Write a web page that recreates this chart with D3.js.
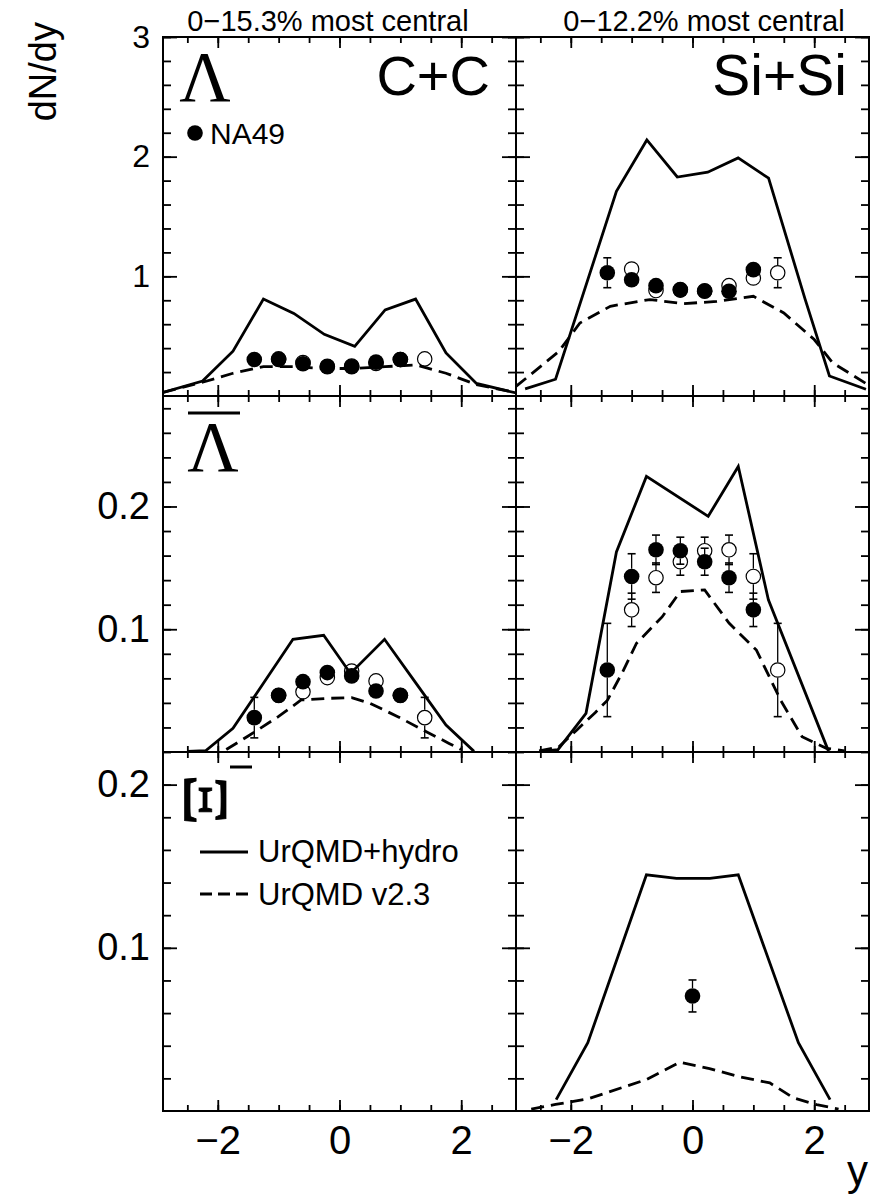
<!DOCTYPE html>
<html><head><meta charset="utf-8">
<script src="https://cdn.jsdelivr.net/npm/d3@7"></script>
<style>body{margin:0;background:#fff}svg{display:block}</style>
</head><body><svg id="c" width="879" height="1197"></svg>
<script>
// ---------------- DATA ----------------
const centralityLabels = ["0\u221215.3% most central", "0\u221212.2% most central"];
const systemLabels = ["C+C", "Si+Si"];
const xTickValues = [-2, 0, 2];
const yTickValuesLambda = [1, 2, 3];
const yTickValuesLambdaBar = [0.1, 0.2];
const yTickValuesXi = [0.1, 0.2];
const legendLabels = ["NA49", "UrQMD+hydro", "UrQMD v2.3"];

// Lambda, C+C
const hydroLambdaCC = [[-2.9,0.03],[-2.25,0.125],[-1.75,0.375],[-1.25,0.81],[-0.75,0.69],[-0.25,0.515],[0.25,0.415],[0.75,0.72],[1.25,0.81],[1.75,0.36],[2.25,0.105],[2.9,0.025]];
const urqmdLambdaCC = [[-2.9,0.03],[-2.25,0.115],[-1.75,0.19],[-1.25,0.245],[-0.75,0.245],[-0.25,0.23],[0.25,0.23],[0.75,0.245],[1.25,0.26],[1.75,0.19],[2.25,0.095],[2.9,0.028]];
const na49LambdaCC = [[-1.4,0.305,0.03],[-1.0,0.31,0.03],[-0.6,0.27,0.03],[-0.2,0.245,0.03],[0.2,0.245,0.03],[0.6,0.283,0.03],[1.0,0.305,0.03]];
const na49LambdaCCRefl = [[1.4,0.31,0.03],[1.0,0.305,0.03],[0.6,0.272,0.03],[0.2,0.25,0.03],[-0.2,0.248,0.03],[-0.6,0.28,0.03],[-1.0,0.305,0.03]];

// Lambda, Si+Si
const hydroLambdaSi = [[-2.75,0.06],[-2.25,0.14],[-1.25,1.71],[-0.75,2.14],[-0.25,1.83],[0.25,1.87],[0.75,1.99],[1.25,1.82],[1.85,0.81],[2.25,0.167],[2.85,0.056]];
const urqmdLambdaSi = [[-2.9,0.08],[-2.2,0.37],[-1.85,0.61],[-1.35,0.75],[-0.7,0.806],[-0.15,0.772],[0.4,0.79],[1.0,0.833],[1.5,0.694],[2.0,0.472],[2.3,0.278],[2.85,0.105]];
const na49LambdaSi = [[-1.4,1.03,0.125],[-1.0,0.972,0.04],[-0.6,0.922,0.04],[-0.2,0.889,0.04],[0.2,0.875,0.04],[0.6,0.875,0.04],[1.0,1.056,0.04]];
const na49LambdaSiRefl = [[1.4,1.03,0.125],[1.0,0.986,0.04],[0.6,0.922,0.04],[0.2,0.88,0.04],[-0.2,0.885,0.04],[-0.6,0.881,0.04],[-1.0,1.061,0.04]];

// anti-Lambda, C+C
const hydroLambdaBarCC = [[-2.5,0.0005],[-2.2,0.001],[-1.75,0.0193],[-1.25,0.056],[-0.765,0.0918],[-0.26,0.0951],[0.18,0.064],[0.74,0.0918],[1.25,0.0565],[1.75,0.022],[2.21,0.0005]];
const urqmdLambdaBarCC = [[-1.86,0.002],[-1.5,0.013],[-1.0,0.029],[-0.63,0.0424],[-0.2,0.0437],[0.2,0.0443],[0.5,0.0397],[0.95,0.029],[1.37,0.018],[1.8,0.007],[2.0,0.002]];
const na49LambdaBarCC = [[-1.4,0.028,0.0165],[-1.0,0.046,0.004],[-0.6,0.0573,0.004],[-0.2,0.0647,0.004],[0.2,0.062,0.004],[0.6,0.0497,0.004],[1.0,0.0462,0.004]];
const na49LambdaBarCCRefl = [[1.4,0.028,0.0165],[1.0,0.046,0.004],[0.6,0.0579,0.004],[0.2,0.066,0.004],[-0.2,0.0606,0.004],[-0.6,0.049,0.004],[-1.0,0.0462,0.004]];

// anti-Lambda, Si+Si
const hydroLambdaBarSi = [[-2.5,0.0005],[-2.21,0.002],[-1.75,0.0315],[-1.25,0.163],[-0.757,0.2245],[0.258,0.192],[0.752,0.2326],[1.247,0.124],[2.236,0.0005]];
const urqmdLambdaBarSi = [[-2.52,0.001],[-2.2,0.004],[-1.9,0.018],[-1.6,0.032],[-1.4,0.042],[-1.15,0.065],[-0.92,0.0886],[-0.5,0.11],[-0.2,0.1307],[0.2,0.132],[0.6,0.105],[1.05,0.083],[1.45,0.042],[1.8,0.0125],[2.2,0.003],[2.5,0.001]];
const na49LambdaBarSi = [[-1.4,0.0668,0.038],[-1.0,0.143,0.0185],[-0.6,0.1647,0.012],[-0.2,0.164,0.011],[0.2,0.155,0.011],[0.6,0.142,0.012],[1.0,0.1158,0.0136]];
const na49LambdaBarSiRefl = [[1.4,0.0668,0.038],[1.0,0.143,0.0185],[0.6,0.1647,0.012],[0.2,0.164,0.011],[-0.2,0.155,0.011],[-0.6,0.142,0.012],[-1.0,0.1158,0.0136]];

// Xi-, Si+Si
const hydroXiSi = [[-2.24,0.007],[-1.72,0.0418],[-0.757,0.1447],[-0.263,0.1426],[0.285,0.1426],[0.752,0.1447],[1.74,0.0418],[2.26,0.007]];
const urqmdXiSi = [[-2.65,0.0012],[-2.25,0.004],[-1.72,0.0074],[-0.757,0.0193],[-0.21,0.0299],[0.28,0.026],[0.78,0.0209],[1.27,0.0172],[1.66,0.008],[2.04,0.0039],[2.4,0.0012]];
const na49XiSi = [[0.0,0.0705,0.0098]];

// ---------------- LAYOUT ----------------
const svg = d3.select("#c");
const FONT = "'Liberation Sans', Arial, Helvetica, sans-serif";
const SERIF = "'Liberation Serif', 'Times New Roman', serif";
const colX = [[163,516],[516,869]];
const rowY = [[37,396],[396,752],[752,1111]];
const yDomainMax = [3, 0.29, 0.22];
const yMinorStep = [0.2, 0.02, 0.02];
const yMajorTicks = [yTickValuesLambda, yTickValuesLambdaBar, yTickValuesXi];
const yLabelSize = [32, 38, 38];

const panels = [
  {r:0,c:0,solid:hydroLambdaCC,dashed:urqmdLambdaCC,filled:na49LambdaCC,open:na49LambdaCCRefl},
  {r:0,c:1,solid:hydroLambdaSi,dashed:urqmdLambdaSi,filled:na49LambdaSi,open:na49LambdaSiRefl},
  {r:1,c:0,solid:hydroLambdaBarCC,dashed:urqmdLambdaBarCC,filled:na49LambdaBarCC,open:na49LambdaBarCCRefl},
  {r:1,c:1,solid:hydroLambdaBarSi,dashed:urqmdLambdaBarSi,filled:na49LambdaBarSi,open:na49LambdaBarSiRefl},
  {r:2,c:0,solid:[],dashed:[],filled:[],open:[]},
  {r:2,c:1,solid:hydroXiSi,dashed:urqmdXiSi,filled:na49XiSi,open:[]}
];

const MR = 7.8; // marker radius

panels.forEach((p,i) => {
  const [x0,x1] = colX[p.c];
  const [y0,y1] = rowY[p.r];
  const x = d3.scaleLinear().domain([-2.9,2.9]).range([x0,x1]);
  const y = d3.scaleLinear().domain([0,yDomainMax[p.r]]).range([y1,y0]);
  const g = svg.append("g");
  const cid = "clip"+i;
  svg.append("clipPath").attr("id",cid).append("rect")
     .attr("x",x0).attr("y",y0).attr("width",x1-x0).attr("height",y1-y0);
  const plot = g.append("g").attr("clip-path",`url(#${cid})`);
  const line = d3.line().x(d=>x(d[0])).y(d=>y(d[1]));
  if (p.solid.length) plot.append("path").attr("d",line(p.solid))
     .attr("fill","none").attr("stroke","#000").attr("stroke-width",2.8).attr("stroke-linejoin","miter");
  if (p.dashed.length) plot.append("path").attr("d",line(p.dashed))
     .attr("fill","none").attr("stroke","#000").attr("stroke-width",2.8).attr("stroke-dasharray","13,7");

  // error bars + markers
  const drawPts = (pts, filled) => {
    pts.forEach(d => {
      const cx = x(d[0]), cy = y(d[1]);
      const up = y(d[1]+d[2]), dn = y(d[1]-d[2]);
      if (cy - up > MR) {
        plot.append("line").attr("x1",cx).attr("x2",cx).attr("y1",cy-MR).attr("y2",up).attr("stroke","#000").attr("stroke-width",1.3);
        plot.append("line").attr("x1",cx-4).attr("x2",cx+4).attr("y1",up).attr("y2",up).attr("stroke","#000").attr("stroke-width",1.6);
      }
      if (dn - cy > MR) {
        plot.append("line").attr("x1",cx).attr("x2",cx).attr("y1",cy+MR).attr("y2",dn).attr("stroke","#000").attr("stroke-width",1.3);
        plot.append("line").attr("x1",cx-4).attr("x2",cx+4).attr("y1",dn).attr("y2",dn).attr("stroke","#000").attr("stroke-width",1.6);
      }
      plot.append("circle").attr("cx",cx).attr("cy",cy).attr("r",filled?MR:MR-0.6)
        .attr("fill",filled?"#000":"none").attr("stroke","#000").attr("stroke-width",filled?0:1.2);
    });
  };
  drawPts(p.open,false);
  drawPts(p.filled,true);

  // axes (inward ticks on all four sides)
  const xMinor = d3.range(-2.5,2.51,0.5);
  const yMinor = d3.range(yMinorStep[p.r], yDomainMax[p.r]+1e-9, yMinorStep[p.r]);
  const fmtY = p.r===0 ? d3.format("d") : d3.format(".1f");
  const fmtX = v => v<0 ? "\u2212"+Math.abs(v) : String(v);
  const ax = [];
  ax.push(g.append("g").attr("transform",`translate(0,${y1})`).call(d3.axisBottom(x).tickValues(xMinor).tickSize(-6).tickFormat("")));
  ax.push(g.append("g").attr("transform",`translate(0,${y1})`).call(d3.axisBottom(x).tickValues(xTickValues).tickSize(-11).tickPadding(15).tickFormat(p.r===2?fmtX:"")));
  ax.push(g.append("g").attr("transform",`translate(0,${y0})`).call(d3.axisTop(x).tickValues(xMinor).tickSize(-6).tickFormat("")));
  ax.push(g.append("g").attr("transform",`translate(0,${y0})`).call(d3.axisTop(x).tickValues(xTickValues).tickSize(-11).tickFormat("")));
  ax.push(g.append("g").attr("transform",`translate(${x0},0)`).call(d3.axisLeft(y).tickValues(yMinor).tickSize(-8).tickFormat("")));
  ax.push(g.append("g").attr("transform",`translate(${x0},0)`).call(d3.axisLeft(y).tickValues(yMajorTicks[p.r]).tickSize(-14).tickPadding(13).tickFormat(p.c===0?fmtY:"")));
  ax.push(g.append("g").attr("transform",`translate(${x1},0)`).call(d3.axisRight(y).tickValues(yMinor).tickSize(-8).tickFormat("")));
  ax.push(g.append("g").attr("transform",`translate(${x1},0)`).call(d3.axisRight(y).tickValues(yMajorTicks[p.r]).tickSize(-14).tickFormat("")));
  ax.forEach((a,k) => {
    a.select(".domain").remove();
    a.selectAll(".tick line").attr("stroke","#000").attr("stroke-width",1.8);
    a.selectAll(".tick text").attr("fill","#000").style("font-family",FONT)
      .style("font-size", (k===1 ? 40 : yLabelSize[p.r]) + "px");
  });
  // frame
  g.append("rect").attr("x",x0).attr("y",y0).attr("width",x1-x0).attr("height",y1-y0)
    .attr("fill","none").attr("stroke","#000").attr("stroke-width",2);
});

// titles
const txt = (s,x,y,size,anchor,family) => svg.append("text").attr("x",x).attr("y",y).attr("text-anchor",anchor||"start")
  .style("font-family",family||FONT).style("font-size",size+"px").attr("fill","#000").text(s);
txt(centralityLabels[0], 328, 31, 29, "middle");
txt(centralityLabels[1], 704, 31, 29, "middle");
txt(systemLabels[0], 490, 95, 56, "end");
txt(systemLabels[1], 847, 95, 57, "end");

// particle labels
txt("\u039B", 205, 101, 71, "middle", SERIF);
txt("\u039B", 213, 471, 71, "middle", SERIF);
svg.append("line").attr("x1",188).attr("x2",240).attr("y1",413).attr("y2",413).attr("stroke","#000").attr("stroke-width",3);
svg.append("text").attr("transform","translate(206,800) scale(0.92,1.15) rotate(90)").attr("text-anchor","middle")
  .attr("dominant-baseline","central").style("font-family",SERIF).style("font-size","70px")
  .attr("fill","#000").attr("stroke","#000").attr("stroke-width",0.8).text("\u039E");
svg.append("line").attr("x1",230).attr("x2",252).attr("y1",767).attr("y2",767).attr("stroke","#000").attr("stroke-width",3);

// legends
svg.append("circle").attr("cx",195).attr("cy",133).attr("r",7.8).attr("fill","#000");
txt(legendLabels[0], 210, 144, 30, "start");
svg.append("line").attr("x1",200).attr("x2",248).attr("y1",852).attr("y2",852).attr("stroke","#000").attr("stroke-width",2.8);
txt(legendLabels[1], 258, 862, 31, "start");
svg.append("line").attr("x1",200).attr("x2",248).attr("y1",894).attr("y2",894).attr("stroke","#000").attr("stroke-width",2.8).attr("stroke-dasharray","12,6");
txt(legendLabels[2], 258, 905, 31, "start");

// axis titles
svg.append("text").attr("transform","translate(56,22) rotate(-90)").attr("text-anchor","end")
  .style("font-family",FONT).style("font-size","38px").attr("fill","#000").text("dN/dy");
txt("y", 868, 1185, 42, "end");
</script></body></html>
